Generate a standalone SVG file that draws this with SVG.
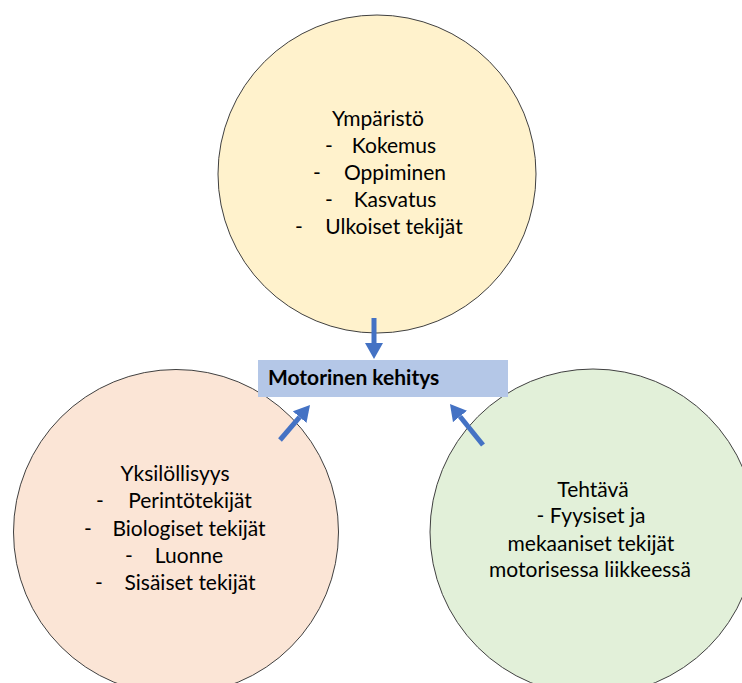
<svg xmlns="http://www.w3.org/2000/svg" width="742" height="683" viewBox="0 0 742 683">
  <style>
    .circle { stroke: #404040; stroke-width: 1; }
    .t { font-family: Lato, "Open Sans", "Liberation Sans", sans-serif; font-size: 21px; fill: #000; text-anchor: middle; }
    .b { font-family: Lato, "Open Sans", "Liberation Sans", sans-serif; font-size: 21px; font-weight: bold; fill: #000; }
    .arrow { stroke: #4472c4; stroke-width: 5; fill: none; }
  </style>
  <defs>
    <marker id="head" viewBox="0 -9 16 18" markerWidth="16" markerHeight="18" refX="0" refY="0" orient="auto" markerUnits="userSpaceOnUse">
      <path d="M0,-9 L16,0 L0,9 Z" fill="#4472c4"/>
    </marker>
  </defs>
  <rect width="742" height="683" fill="#ffffff"/>

  <g id="node-ymparisto">
    <circle class="circle" cx="377" cy="174" r="159" fill="#fff2cc"/>
    <text class="t" x="378" y="126">Ympäristö</text>
    <text class="t" x="329" y="153">-</text><text class="t" x="394" y="153">Kokemus</text>
    <text class="t" x="317" y="180">-</text><text class="t" x="395" y="180">Oppiminen</text>
    <text class="t" x="329" y="207">-</text><text class="t" x="395" y="207">Kasvatus</text>
    <text class="t" x="299" y="234">-</text><text class="t" x="394" y="234">Ulkoiset tekijät</text>
  </g>

  <g id="node-yksilollisyys">
    <circle class="circle" cx="176" cy="532" r="162.5" fill="#fbe5d6"/>
    <text class="t" x="175" y="481">Yksilöllisyys</text>
    <text class="t" x="100" y="508">-</text><text class="t" x="190" y="508">Perintötekijät</text>
    <text class="t" x="88" y="536">-</text><text class="t" x="189" y="536">Biologiset tekijät</text>
    <text class="t" x="129" y="563">-</text><text class="t" x="189" y="563">Luonne</text>
    <text class="t" x="99" y="590">-</text><text class="t" x="190" y="590">Sisäiset tekijät</text>
  </g>

  <g id="node-tehtava">
    <circle class="circle" cx="593" cy="532" r="163" fill="#e2f0d9"/>
    <text class="t" x="593" y="497">Tehtävä</text>
    <text class="t" x="591" y="523">- Fyysiset ja</text>
    <text class="t" x="591" y="551">mekaaniset tekijät</text>
    <text class="t" x="590" y="577">motorisessa liikkeessä</text>
  </g>

  <g id="node-motorinen">
    <rect x="258" y="360" width="250" height="37" fill="#b4c7e7"/>
    <text class="b" x="268" y="385">Motorinen kehitys</text>
  </g>

  <g id="connectors">
    <line class="arrow" x1="374" y1="318" x2="374" y2="343" marker-end="url(#head)"/>
    <line class="arrow" x1="280" y1="440" x2="299.6" y2="417.1" marker-end="url(#head)"/>
    <line class="arrow" x1="483" y1="445" x2="460" y2="416.5" marker-end="url(#head)"/>
  </g>
</svg>
